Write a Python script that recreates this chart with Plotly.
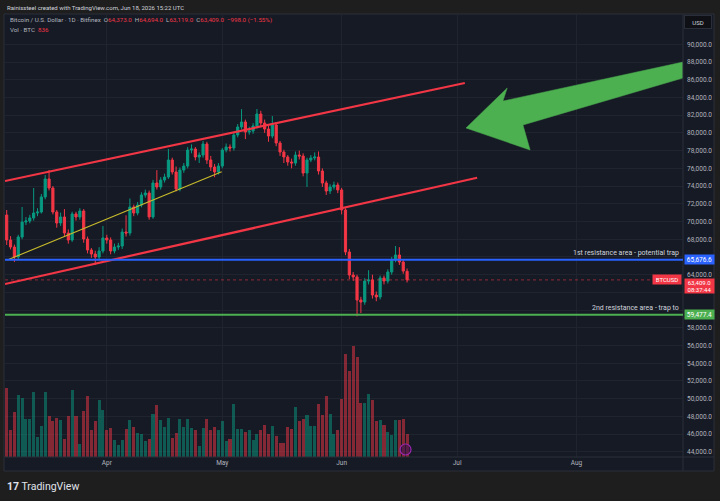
import plotly.graph_objects as go
import pandas as pd

# ---------------- data ----------------
dates = pd.date_range("2026-03-06", periods=105, freq="D")

opens = [70730, 67910, 67120, 65990, 68250, 69940, 70060, 70400, 70960, 71070,
         72770, 74800, 73780, 71070, 69830, 70510, 68700, 67910, 70850, 70510,
         71190, 68020, 66780, 66330, 65990, 66670, 68140, 67910, 66670, 67120,
         67230, 68810, 68700, 71640, 70960, 71860, 72990, 73220, 70510, 74350,
         73890, 74680, 75020, 76940, 75590, 73670, 75810, 76260, 78070, 78180,
         77280, 77500, 78750, 76940, 76150, 75590, 76260, 78070, 78410, 78300,
         79760, 80670, 81230, 80100, 80210, 80780, 82130, 81120, 80440, 79650,
         80890, 78860, 77840, 77280, 76720, 76600, 77500, 77390, 75470, 76940,
         77170, 77280, 75700, 74350, 73440, 73890, 74120, 73560, 71300, 66560,
         63960, 63740, 61140, 60910, 63280, 63400, 61700, 61480, 63620, 63280,
         64300, 65650, 66220, 65430, 64373]
highs = [71300, 68350, 67400, 68500, 71640, 70500, 70750, 73780, 71500, 73100,
         75250, 75810, 74000, 71300, 71000, 71400, 69100, 71100, 71100, 71500,
         71400, 68300, 67000, 66700, 67100, 69500, 68500, 68200, 67500, 67600,
         69200, 70700, 72600, 71900, 72200, 73300, 73600, 73500, 74700, 75800,
         75000, 75400, 78180, 77200, 76200, 76100, 76600, 78400, 78700, 78400,
         77800, 79100, 79000, 77400, 76500, 76600, 78300, 78800, 78700, 80100,
         81000, 82680, 81500, 80700, 81100, 82700, 82500, 81500, 80800, 81900,
         81200, 79100, 78100, 77500, 77100, 77900, 78000, 77700, 77200, 77500,
         77800, 77900, 76000, 74600, 74200, 74500, 74400, 73800, 71500, 66900,
         64300, 64000, 61500, 63600, 64500, 64000, 62100, 63900, 63900, 64600,
         66000, 67230, 67100, 65700, 64694]
lows = [67350, 66850, 65430, 65760, 68000, 69600, 69800, 70100, 70600, 70900,
        72500, 73500, 70800, 69300, 69500, 68300, 67500, 67700, 70100, 70200,
        67600, 66400, 65900, 65100, 65700, 66400, 67500, 66300, 66400, 66800,
        66900, 68300, 68400, 70600, 70700, 71600, 72700, 70200, 70300, 73600,
        73600, 74400, 74800, 75300, 73400, 73400, 75500, 76000, 77700, 76900,
        76600, 77200, 76500, 75700, 75000, 75300, 76000, 77800, 77900, 78000,
        79500, 80400, 79300, 79800, 79900, 80500, 80700, 80000, 79000, 79400,
        78500, 77400, 76600, 76300, 76000, 76300, 77000, 75100, 73890, 76700,
        76900, 75300, 73900, 73000, 73100, 73600, 73200, 70800, 66200, 63500,
        63300, 59300, 59670, 60600, 62900, 61300, 61000, 61200, 62900, 63000,
        64000, 65400, 65100, 64100, 63119]
closes = [67910, 67120, 65990, 68250, 69940, 70060, 70400, 70960, 71070, 72770,
          74800, 73780, 71070, 69830, 70510, 68700, 67910, 70850, 70510, 71190,
          68020, 66780, 66330, 65990, 66670, 68140, 67910, 66670, 67120, 67230,
          68810, 68700, 71640, 70960, 71860, 72990, 73220, 70510, 74350, 73890,
          74680, 75020, 76940, 75590, 73670, 75810, 76260, 78070, 78180, 77280,
          77500, 78750, 76940, 76150, 75590, 76260, 78070, 78410, 78300, 79760,
          80670, 81230, 80100, 80210, 80780, 82130, 81120, 80440, 79650, 80890,
          78860, 77840, 77280, 76720, 76600, 77500, 77390, 75470, 76940, 77170,
          77280, 75700, 74350, 73440, 73890, 74120, 73560, 71300, 66560, 63960,
          63740, 61140, 60910, 63280, 63400, 61700, 61480, 63620, 63280, 64300,
          65650, 66220, 65430, 64407, 63409]
volumes = [2515, 1006, 1656, 2294, 2184, 1387, 1411, 2368, 736, 1129,
           2368, 1497, 1313, 1448, 1374, 675, 1521, 2442, 1497, 491,
           1681, 2245, 1006, 1337, 2110, 1742, 982, 1080, 614, 429,
           638, 1043, 1374, 1104, 896, 834, 589, 675, 1571, 1902,
           1350, 1104, 1448, 712, 883, 1411, 1104, 1411, 1080, 1006,
           417, 1080, 1411, 1006, 1104, 1006, 1325, 577, 675, 1963,
           1018, 1018, 920, 982, 614, 859, 982, 1166, 834, 1129,
           785, 515, 515, 1092, 1043, 1853, 1313, 1411, 1558, 1141,
           1141, 1963, 1534, 2233, 1595, 859, 982, 2147, 3791, 3153,
           4074, 3656, 2000, 2000, 2307, 2086, 1313, 1374, 1178, 933,
           822, 1374, 1374, 1411, 836]

price_ticks = list(range(44000, 90001, 2000))
hidden_ticks = [66000, 62000, 60000]          # covered by the price tags in the reference
month_ticks = ["2026-04-01", "2026-05-01", "2026-06-01", "2026-07-01", "2026-08-01"]

resistance_1 = 65676.6
resistance_2 = 59477.4

# drawings (anchor points as date / price)
upper_channel = (["2026-03-05 13:24", "2026-07-03 00:00"], [74570, 85630])
lower_channel = (["2026-03-05 13:24", "2026-07-06 04:48"], [62945, 74943])
yellow_trend = (["2026-03-06 03:45", "2026-04-30 20:10"], [65654, 75620])
arrow_pts = (["2026-07-03 07:12", "2026-07-14 00:00", "2026-07-12 21:36", "2026-08-28 16:00",
              "2026-08-28 16:00", "2026-07-18 02:24", "2026-07-19 22:48", "2026-07-03 07:12"],
             [80553, 85067, 83600, 88002, 86196, 80891, 78070, 80553])

# ---------------- styling ----------------
W, H = 720, 501
UP, DOWN = "#089981", "#f23645"
PANE = "#161a25"
OUTER = "#1e1e1e"
GRID = "#20242f"
BORDER = "#2a2e39"
TXT = "#b2b5be"
FONT = "Roboto"

px_left, px_right = 5, 683
px_top, px_bottom = 14, 457

def fx(px):
    return px / W

def fy(py):
    return 1 - py / H

vol_colors = ["rgba(8,153,129,0.5)" if c >= o else "rgba(242,54,69,0.5)"
              for o, c in zip(opens, closes)]

fig = go.Figure()

fig.add_trace(go.Bar(x=dates, y=volumes, marker_color=vol_colors, marker_line_width=0,
                     width=0.8 * 86400000, yaxis="y2", hoverinfo="skip", showlegend=False))

fig.add_trace(go.Candlestick(
    x=dates, open=opens, high=highs, low=lows, close=closes,
    increasing=dict(line=dict(color=UP, width=1), fillcolor=UP),
    decreasing=dict(line=dict(color=DOWN, width=1), fillcolor=DOWN),
    whiskerwidth=0, showlegend=False, hoverinfo="skip"))

for (xs, ys), col, wd in [(upper_channel, "#f23645", 2.2), (lower_channel, "#f23645", 2.2),
                          (yellow_trend, "#c8bb2c", 1.1)]:
    fig.add_trace(go.Scatter(x=xs, y=ys, mode="lines", line=dict(color=col, width=wd),
                             showlegend=False, hoverinfo="skip"))

fig.add_trace(go.Scatter(x=arrow_pts[0], y=arrow_pts[1], mode="lines", fill="toself",
                         fillcolor="#4caf50", line=dict(color="#4caf50", width=0.5),
                         showlegend=False, hoverinfo="skip"))

shapes = [
    # pane
    dict(type="rect", xref="paper", yref="paper", x0=fx(4), x1=fx(714), y0=fy(471), y1=fy(14),
         fillcolor=PANE, line=dict(color=BORDER, width=1), layer="below"),
    dict(type="line", xref="paper", yref="paper", x0=fx(683), x1=fx(683), y0=fy(471), y1=fy(14),
         line=dict(color=BORDER, width=1)),
    dict(type="line", xref="paper", yref="paper", x0=fx(4), x1=fx(714), y0=fy(457), y1=fy(457),
         line=dict(color=BORDER, width=1)),
    # horizontal levels
    dict(type="line", xref="x domain", yref="y", x0=0, x1=1, y0=resistance_1, y1=resistance_1,
         line=dict(color="#2962ff", width=2)),
    dict(type="line", xref="x domain", yref="y", x0=0, x1=1, y0=resistance_2, y1=resistance_2,
         line=dict(color="#4caf50", width=2)),
    dict(type="line", xref="x domain", yref="y", x0=0, x1=1, y0=closes[-1], y1=closes[-1],
         line=dict(color="rgba(242,54,69,0.55)", width=1, dash="dot")),
    # indicator icon
    dict(type="circle", xref="paper", yref="paper", x0=fx(400), x1=fx(411), y0=fy(455), y1=fy(444),
         line=dict(color="#9c27b0", width=1.2), fillcolor="rgba(60,20,80,0.6)"),
]

red = DOWN
prev_close = closes[-2]
chg = closes[-1] - prev_close
pct = chg / prev_close * 100

def fmt(v):
    return f"{v:,.1f}"

header = ("Bitcoin / U.S. Dollar · 1D · Bitfinex  "
          f"O<span style='color:{red}'>{fmt(opens[-1])}</span>  "
          f"H<span style='color:{red}'>{fmt(highs[-1])}</span>  "
          f"L<span style='color:{red}'>{fmt(lows[-1])}</span>  "
          f"C<span style='color:{red}'>{fmt(closes[-1])}</span>  "
          f"<span style='color:{red}'>{'−' if chg < 0 else '+'}{fmt(abs(chg))} "
          f"({'−' if chg < 0 else '+'}{abs(pct):.2f}%)</span>")

annotations = [
    dict(xref="paper", yref="paper", x=fx(5), y=fy(7), xanchor="left", yanchor="middle",
         text="Rainissteel created with TradingView.com, Jun 18, 2026 15:22 UTC",
         font=dict(size=6.0, color="#d1d4dc", family=FONT), showarrow=False),
    dict(xref="paper", yref="paper", x=fx(8), y=fy(20.5), xanchor="left", yanchor="middle",
         text=header, font=dict(size=6.2, color=TXT, family=FONT), showarrow=False),
    dict(xref="paper", yref="paper", x=fx(8), y=fy(29.5), xanchor="left", yanchor="middle",
         text=f"Vol · BTC  <span style='color:{red}'>{volumes[-1]:,}</span>",
         font=dict(size=6.2, color=TXT, family=FONT), showarrow=False),
    dict(xref="paper", yref="paper", x=fx(698), y=fy(21.5), xanchor="center", yanchor="middle",
         text="USD", font=dict(size=6, color="#d1d4dc", family=FONT), showarrow=False,
         bgcolor="#0e1016", bordercolor=BORDER, borderwidth=1, width=24, height=10),
    # level texts
    dict(xref="paper", yref="y", x=fx(681), y=resistance_1, xanchor="right", yanchor="bottom",
         yshift=1, text="1st resistance area - potential trap",
         font=dict(size=7, color="#d1d4dc", family=FONT), showarrow=False),
    dict(xref="paper", yref="y", x=fx(681), y=resistance_2, xanchor="right", yanchor="bottom",
         yshift=1, text="2nd resistance area - trap to",
         font=dict(size=7, color="#d1d4dc", family=FONT), showarrow=False),
    # price axis tags
    dict(xref="paper", yref="y", x=fx(683.5), y=resistance_1, xanchor="left", yanchor="middle",
         text=fmt(resistance_1), font=dict(size=6.5, color="white", family=FONT),
         bgcolor="#2962ff", width=29, height=9, borderpad=0, showarrow=False),
    dict(xref="paper", yref="y", x=fx(683.5), y=resistance_2, xanchor="left", yanchor="middle",
         text=fmt(resistance_2), font=dict(size=6.5, color="white", family=FONT),
         bgcolor="#4caf50", width=29, height=9, borderpad=0, showarrow=False),
    dict(xref="paper", yref="y", x=fx(683.5), y=closes[-1], xanchor="left", yanchor="middle",
         yshift=-6, text=fmt(closes[-1]) + "<br>08:37:44",
         font=dict(size=6.0, color="white", family=FONT),
         bgcolor=DOWN, width=29, height=14, borderpad=0, showarrow=False),
    dict(xref="paper", yref="y", x=fx(682), y=closes[-1], xanchor="right", yanchor="middle",
         text="BTCUSD", font=dict(size=6, color="white", family=FONT),
         bgcolor=DOWN, width=28, height=9, borderpad=0, showarrow=False),
    # logo
    dict(xref="paper", yref="paper", x=fx(5), y=fy(486), xanchor="left", yanchor="middle",
         text="<b>17</b> TradingView", font=dict(size=10.5, color="#e0e3eb", family=FONT),
         showarrow=False),
]

tick_text = ["" if v in hidden_ticks else fmt(v) for v in price_ticks]

fig.update_layout(
    width=W, height=H, autosize=False,
    margin=dict(l=0, r=0, t=0, b=0),
    paper_bgcolor=OUTER, plot_bgcolor=PANE,
    showlegend=False, bargap=0, boxgap=0.2,
    font=dict(family=FONT, color=TXT),
    xaxis=dict(type="date", domain=[fx(px_left), fx(px_right)],
               range=["2026-03-05 13:24", "2026-08-28 16:00"],
               tickmode="array", tickvals=month_ticks, tickformat="%b",
               tickfont=dict(size=6.5, color=TXT, family=FONT),
               showgrid=True, gridcolor=GRID, gridwidth=1, zeroline=False,
               showline=False, ticks="", rangeslider=dict(visible=False), fixedrange=True),
    yaxis=dict(domain=[fy(px_bottom), fy(px_top)], range=[43420, 93420], side="right",
               tickmode="array", tickvals=price_ticks, ticktext=tick_text,
               tickfont=dict(size=6.5, color=TXT, family=FONT), ticklabelstandoff=3,
               showgrid=True, gridcolor=GRID, gridwidth=1, zeroline=False,
               showline=False, ticks="", fixedrange=True),
    yaxis2=dict(domain=[fy(px_bottom), fy(px_top)], range=[0, 16260], overlaying="y",
                visible=False, showgrid=False, fixedrange=True),
    shapes=shapes,
    annotations=annotations,
)

fig.write_html("out.html")
